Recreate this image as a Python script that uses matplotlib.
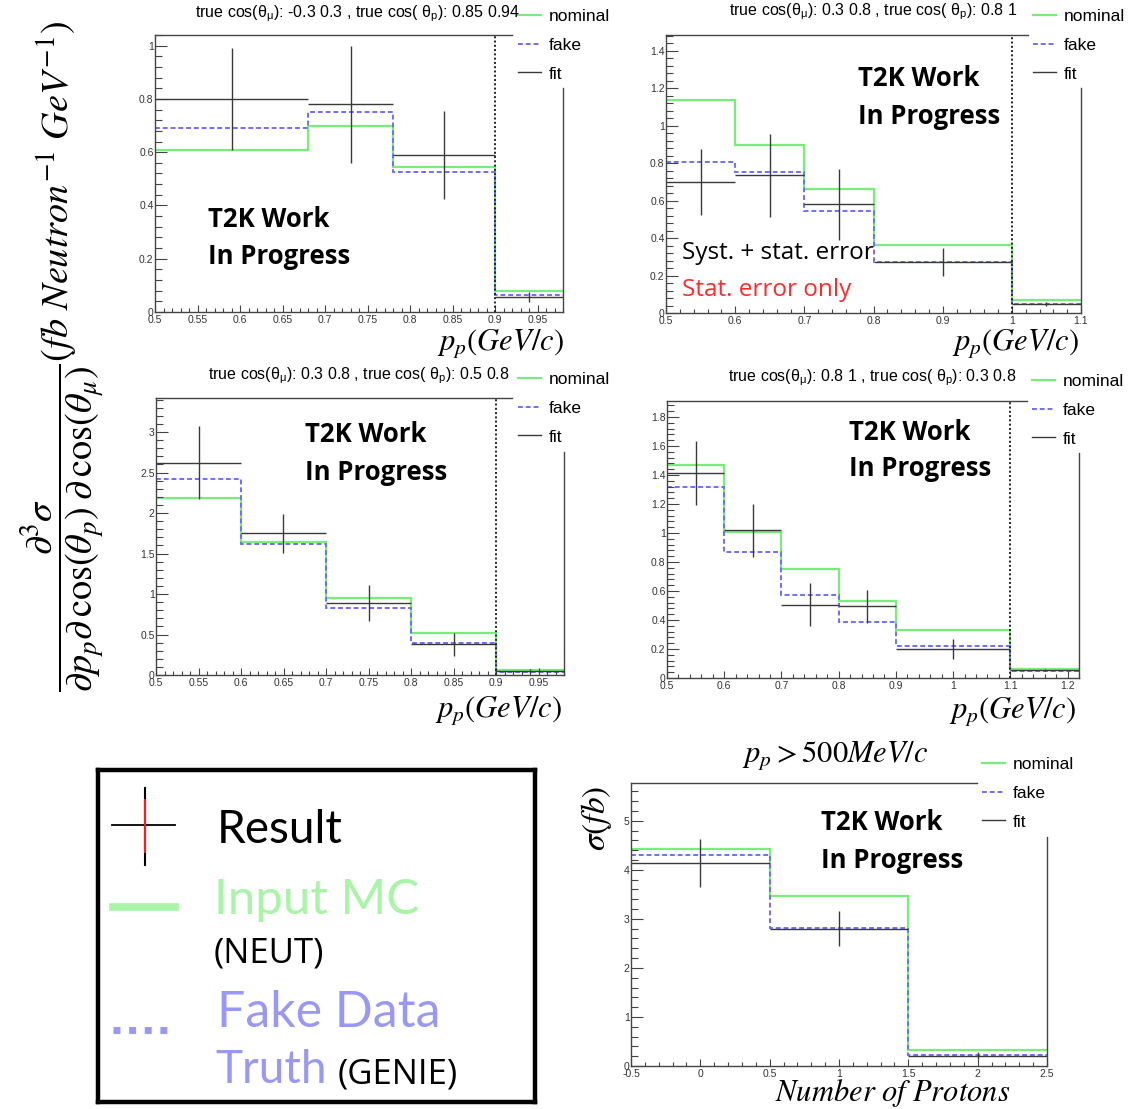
import matplotlib
matplotlib.use("Agg")
import matplotlib.pyplot as plt
from matplotlib.lines import Line2D
from matplotlib.ticker import AutoMinorLocator
import numpy as np

plt.rcParams['font.family'] = ['Liberation Sans', 'DejaVu Sans']
plt.rcParams['mathtext.fontset'] = 'stix'

W, H = 1128, 1109

# ---- data ----
# panel 1: cos(theta_mu) -0.3..0.3, cos(theta_p) 0.85..0.94
p1_edges = [0.5, 0.68, 0.78, 0.90, 0.98]
p1_nominal = [0.61, 0.70, 0.545, 0.08]
p1_fake = [0.69, 0.75, 0.525, 0.065]
p1_fit = [0.80, 0.78, 0.59, 0.056]
p1_err = [0.19, 0.22, 0.165, 0.02]

# panel 2: cos(theta_mu) 0.3..0.8, cos(theta_p) 0.8..1
p2_edges = [0.5, 0.6, 0.7, 0.8, 1.0, 1.1]
p2_nominal = [1.14, 0.897, 0.665, 0.365, 0.068]
p2_fake = [0.804, 0.751, 0.544, 0.27, 0.046]
p2_fit = [0.70, 0.735, 0.58, 0.272, 0.05]
p2_err = [0.175, 0.22, 0.19, 0.077, 0.01]

# panel 3: cos(theta_mu) 0.3..0.8, cos(theta_p) 0.5..0.8
p3_edges = [0.5, 0.6, 0.7, 0.8, 0.9, 0.98]
p3_nominal = [2.184, 1.636, 0.956, 0.515, 0.062]
p3_fake = [2.419, 1.619, 0.824, 0.40, 0.041]
p3_fit = [2.62, 1.751, 0.89, 0.379, 0.05]
p3_err = [0.45, 0.24, 0.225, 0.14, 0.02]

# panel 4: cos(theta_mu) 0.8..1, cos(theta_p) 0.3..0.8
p4_edges = [0.5, 0.6, 0.7, 0.8, 0.9, 1.1, 1.22]
p4_nominal = [1.471, 1.005, 0.749, 0.529, 0.331, 0.064]
p4_fake = [1.315, 0.869, 0.57, 0.386, 0.223, 0.046]
p4_fit = [1.414, 1.018, 0.506, 0.494, 0.20, 0.055]
p4_err = [0.223, 0.184, 0.15, 0.113, 0.07, 0.01]

# panel 5: number of protons, p_p > 500 MeV/c
p5_edges = [-0.5, 0.5, 1.5, 2.5]
p5_nominal = [4.428, 3.467, 0.32]
p5_fake = [4.312, 2.806, 0.218]
p5_fit = [4.135, 2.80, 0.211]
p5_err = [0.49, 0.355, 0.07]

c_nom = '#77ee77'
c_fake = '#6f6fff'
c_fit = '#3a3a3a'
c_frame = '#444444'

fig = plt.figure(figsize=(W / 100, H / 100), dpi=100)


def rect(l, t, r, b):
    return [l / W, 1 - b / H, (r - l) / W, (b - t) / H]


def draw_panel(box, edges, nominal, fake, fit, err, xlim, ylim, xticks, yticks,
               cut=None, top_end=None, right_start=None, leg_xy=None):
    l, t, r, b = box
    ax = fig.add_axes(rect(l, t, r, b))
    edges = np.array(edges)
    centers = (edges[:-1] + edges[1:]) / 2
    half = (edges[1:] - edges[:-1]) / 2
    ax.stairs(nominal, edges, baseline=None, color=c_nom, lw=1.6, label='nominal')
    ax.stairs(fake, edges, baseline=None, color=c_fake, lw=1.4, ls=(0, (2.5, 1.5)), label='fake')
    ax.errorbar(centers, fit, xerr=half, yerr=err, fmt='none', ecolor=c_fit,
                elinewidth=1.0, capsize=0)
    if cut is not None:
        ax.axvline(cut, color='#222222', lw=1.4, ls=(0, (1, 1.2)))
    ax.set_xlim(*xlim)
    ax.set_ylim(*ylim)
    ax.set_xticks(xticks)
    ax.set_yticks(yticks)
    ax.set_xticklabels([f'{v:g}' for v in xticks])
    ax.set_yticklabels([f'{v:g}' for v in yticks])
    ax.xaxis.set_minor_locator(AutoMinorLocator(5))
    ax.yaxis.set_minor_locator(AutoMinorLocator(5))
    ax.tick_params(axis='both', which='both', direction='in', colors=c_frame,
                   labelcolor='#333333', labelsize=7.5, width=0.8)
    ax.tick_params(axis='y', which='major', length=8.5, pad=1)
    ax.tick_params(axis='y', which='minor', length=5)
    ax.tick_params(axis='x', which='major', length=5, pad=2)
    ax.tick_params(axis='x', which='minor', length=3)
    for s in ['top', 'right']:
        ax.spines[s].set_visible(False)
    for s in ['left', 'bottom']:
        ax.spines[s].set_color(c_frame)
        ax.spines[s].set_linewidth(1.0)
    # partial ROOT frame hidden behind the legend box
    tf = (top_end - l) / (r - l)
    rf = (b - right_start) / (b - t)
    ax.plot([0, tf], [1, 1], transform=ax.transAxes, clip_on=False, color=c_frame, lw=1.0)
    ax.plot([1, 1], [0, rf], transform=ax.transAxes, clip_on=False, color=c_frame, lw=1.0)
    handles = [Line2D([], [], color=c_nom, lw=1.6),
               Line2D([], [], color=c_fake, lw=1.4, ls=(0, (2.5, 1.5))),
               Line2D([], [], color=c_fit, lw=1.0)]
    ax.legend(handles, ['nominal', 'fake', 'fit'], loc='upper left',
              bbox_to_anchor=(leg_xy[0] / W, 1 - leg_xy[1] / H), bbox_transform=fig.transFigure,
              frameon=False, fontsize=12.5, borderpad=0, borderaxespad=0,
              handlelength=1.35, handletextpad=0.4, labelspacing=0.78)
    return ax


def ptext(x, y, s, **kw):
    fig.text(x / W, 1 - y / H, s, **kw)


t2k = dict(family='Open Sans', weight='bold', fontsize=18.5, va='center', ha='left')
xlab = dict(fontsize=22, ha='center', va='center')
tsize = 11.5

# panel 1
ax1 = draw_panel((155, 35, 563, 312), p1_edges, p1_nominal, p1_fake, p1_fit, p1_err,
                 (0.5, 0.98), (0, 1.04), np.arange(0.5, 0.96, 0.05), np.arange(0, 1.01, 0.2),
                 cut=0.9, top_end=512, right_start=88, leg_xy=(518, 9))
ptext(357, 14, r'true cos($\mathregular{θ_{μ}}$): -0.3 0.3 , true cos( $\mathregular{θ_{p}}$): 0.85 0.94',
      fontsize=tsize, ha='center', va='center')
ptext(208, 220, 'T2K Work', **t2k)
ptext(208, 256, 'In Progress', **t2k)
ptext(500, 344, r'$p_p(GeV/c)$', **xlab)

# panel 2
ax2 = draw_panel((666, 35, 1081, 313), p2_edges, p2_nominal, p2_fake, p2_fit, p2_err,
                 (0.5, 1.1), (0, 1.485), np.arange(0.5, 1.11, 0.1), np.arange(0, 1.41, 0.2),
                 cut=1.0, top_end=1028, right_start=88, leg_xy=(1033, 9))
ptext(873, 12, r'true cos($\mathregular{θ_{μ}}$): 0.3 0.8 , true cos( $\mathregular{θ_{p}}$): 0.8 1',
      fontsize=tsize, ha='center', va='center')
ptext(858, 79, 'T2K Work', **t2k)
ptext(858, 116, 'In Progress', **t2k)
ptext(682, 253, 'Syst. + stat. error', family='Open Sans', fontsize=17.5, va='center', color='black')
ptext(682, 290, 'Stat. error only', family='Open Sans', fontsize=17.5, va='center', color='#ff2a2a')
ptext(1015, 344, r'$p_p(GeV/c)$', **xlab)

# panel 3
ax3 = draw_panel((156, 398, 564, 675), p3_edges, p3_nominal, p3_fake, p3_fit, p3_err,
                 (0.5, 0.98), (0, 3.42), np.arange(0.5, 0.96, 0.05), np.arange(0, 3.01, 0.5),
                 cut=0.9, top_end=512, right_start=452, leg_xy=(518, 372))
ptext(359, 376, r'true cos($\mathregular{θ_{μ}}$): 0.3 0.8 , true cos( $\mathregular{θ_{p}}$): 0.5 0.8',
      fontsize=tsize, ha='center', va='center')
ptext(305, 435, 'T2K Work', **t2k)
ptext(305, 472, 'In Progress', **t2k)
ptext(498, 710, r'$p_p(GeV/c)$', **xlab)

# panel 4
ax4 = draw_panel((667, 401, 1079, 678), p4_edges, p4_nominal, p4_fake, p4_fit, p4_err,
                 (0.5, 1.22), (0, 1.91), np.arange(0.5, 1.21, 0.1), np.arange(0, 1.81, 0.2),
                 cut=1.1, top_end=1027, right_start=453, leg_xy=(1032, 374))
ptext(872, 378, r'true cos($\mathregular{θ_{μ}}$): 0.8 1 , true cos( $\mathregular{θ_{p}}$): 0.3 0.8',
      fontsize=tsize, ha='center', va='center')
ptext(849, 432, 'T2K Work', **t2k)
ptext(849, 468, 'In Progress', **t2k)
ptext(1012, 711, r'$p_p(GeV/c)$', **xlab)

# panel 5
ax5 = draw_panel((631, 783, 1047, 1066), p5_edges, p5_nominal, p5_fake, p5_fit, p5_err,
                 (-0.5, 2.5), (0, 5.77), np.arange(-0.5, 2.51, 0.5), np.arange(0, 5.1, 1),
                 cut=None, top_end=977, right_start=837, leg_xy=(982, 757))
ptext(835, 755, r'$p_p>500MeV/c$', **xlab)
ptext(597, 818, r'$\sigma(fb)$', fontsize=24, ha='center', va='center', rotation=90)
ptext(893, 1093, r'$Number\ of\ Protons$', **xlab)
ptext(821, 823, 'T2K Work', **t2k)
ptext(821, 860, 'In Progress', **t2k)

# common y label
ptext(63, 356, r'$\dfrac{\partial^3\sigma}{\partial p_p\partial\,\cos(\theta_p)\;\partial\,\cos(\theta_\mu)}(fb\ Neutron^{-1}\ GeV^{-1})$',
      fontsize=27.5, rotation=90, ha='center', va='center')

# summary legend box
lax = fig.add_axes(rect(98, 770, 535, 1102))
lax.set_xlim(0, 1)
lax.set_ylim(0, 1)
lax.set_xticks([])
lax.set_yticks([])
for s in lax.spines.values():
    s.set_linewidth(3.2)
    s.set_color('black')
lax.plot([0.032, 0.176], [0.834, 0.834], color='black', lw=1.3)
lax.plot([0.1075, 0.1075], [0.714, 0.946], color='black', lw=1.5)
lax.plot([0.1075, 0.1075], [0.753, 0.910], color='#ff1a1a', lw=1.5)
lax.plot([0.034, 0.176], [0.587, 0.587], color='#a8f5a8', lw=5.5)
lax.plot([0.034, 0.165], [0.217, 0.217], color='#9999f5', lw=5, ls=(0, (1, 1.25)))
lax.text(0.272, 0.78, 'Result', family='Lato', fontsize=33, va='baseline', color='black')
lax.text(0.266, 0.566, 'Input MC', family='Lato', fontsize=35.5, va='baseline', color='#a8f5a8')
lax.text(0.264, 0.419, '(NEUT)', family='Open Sans', fontsize=25, va='baseline', color='black')
lax.text(0.272, 0.226, 'Fake Data', family='Lato', fontsize=36, va='baseline', color='#9999f5')
lax.text(0.268, 0.057, 'Truth', family='Lato', fontsize=33, va='baseline', color='#9999f5')
lax.text(0.549, 0.057, '(GENIE)', family='Open Sans', fontsize=25, va='baseline', color='black')

fig.savefig('out.png', dpi=100)
